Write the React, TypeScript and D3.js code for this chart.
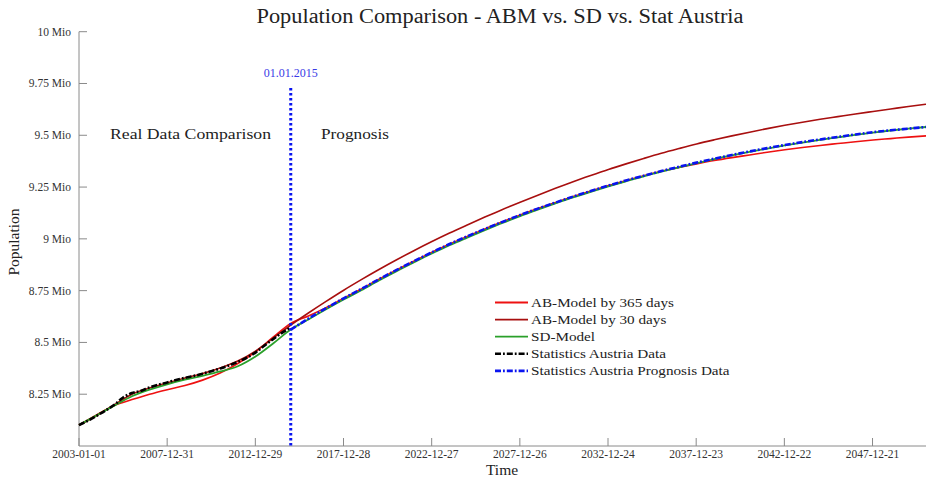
import React from "react";
import * as d3 from "d3";

// ---------- data (years as decimal years, values in millions) ----------
const statYears = [2003, 2003.5, 2004, 2004.5, 2005, 2005.5, 2006, 2006.5, 2007, 2007.5, 2008, 2008.5, 2009, 2009.5, 2010, 2010.5, 2011, 2011.5, 2012, 2012.5, 2013, 2013.5, 2014, 2014.5, 2015];
const statValues = [8.101, 8.122, 8.146, 8.171, 8.199, 8.234, 8.256, 8.266, 8.283, 8.296, 8.307, 8.319, 8.329, 8.338, 8.349, 8.361, 8.374, 8.389, 8.406, 8.426, 8.451, 8.484, 8.516, 8.546, 8.572];

const modelYears = [2003, 2004, 2005, 2006, 2007, 2008, 2009, 2010, 2011, 2012, 2013, 2014, 2015, 2016, 2017, 2018, 2019, 2020, 2021, 2022, 2023, 2024, 2025, 2026, 2027, 2028, 2029, 2030, 2031, 2032, 2033, 2034, 2035, 2036, 2037, 2038, 2039, 2040, 2041, 2042, 2043, 2044, 2045, 2046, 2047, 2048, 2049, 2050, 2051];

const ab365Values = [8.101, 8.150, 8.196, 8.224, 8.250, 8.272, 8.292, 8.318, 8.352, 8.398, 8.455, 8.525, 8.592, 8.628, 8.668, 8.713, 8.758, 8.805, 8.850, 8.893, 8.935, 8.975, 9.012, 9.048, 9.082, 9.115, 9.146, 9.175, 9.204, 9.231, 9.257, 9.282, 9.305, 9.326, 9.345, 9.362, 9.378, 9.392, 9.405, 9.418, 9.430, 9.441, 9.451, 9.460, 9.469, 9.477, 9.484, 9.491, 9.497];

const ab30Values = [8.101, 8.146, 8.199, 8.250, 8.280, 8.305, 8.328, 8.350, 8.377, 8.410, 8.458, 8.520, 8.584, 8.642, 8.698, 8.752, 8.803, 8.852, 8.899, 8.944, 8.987, 9.028, 9.067, 9.105, 9.142, 9.177, 9.211, 9.244, 9.276, 9.306, 9.335, 9.362, 9.388, 9.413, 9.436, 9.458, 9.478, 9.497, 9.515, 9.532, 9.548, 9.563, 9.577, 9.590, 9.603, 9.615, 9.627, 9.639, 9.650];

const sdValues = [8.101, 8.148, 8.195, 8.240, 8.272, 8.298, 8.320, 8.339, 8.360, 8.385, 8.432, 8.495, 8.562, 8.611, 8.660, 8.707, 8.752, 8.799, 8.844, 8.887, 8.929, 8.969, 9.006, 9.042, 9.077, 9.110, 9.141, 9.171, 9.200, 9.227, 9.253, 9.278, 9.302, 9.324, 9.345, 9.365, 9.385, 9.403, 9.420, 9.436, 9.451, 9.465, 9.478, 9.490, 9.502, 9.513, 9.523, 9.532, 9.540];

const progYears = [2015, 2016, 2017, 2018, 2019, 2020, 2021, 2022, 2023, 2024, 2025, 2026, 2027, 2028, 2029, 2030, 2031, 2032, 2033, 2034, 2035, 2036, 2037, 2038, 2039, 2040, 2041, 2042, 2043, 2044, 2045, 2046, 2047, 2048, 2049, 2050, 2051];
const progValues = [8.562, 8.615, 8.665, 8.713, 8.758, 8.805, 8.850, 8.893, 8.935, 8.975, 9.012, 9.048, 9.082, 9.115, 9.146, 9.175, 9.204, 9.231, 9.257, 9.282, 9.305, 9.327, 9.348, 9.368, 9.387, 9.405, 9.422, 9.438, 9.453, 9.467, 9.480, 9.492, 9.504, 9.515, 9.524, 9.532, 9.540];

const yTickValues = [8.25, 8.5, 8.75, 9, 9.25, 9.5, 9.75, 10];
const yTickLabels = ["8.25 Mio", "8.5 Mio", "8.75 Mio", "9 Mio", "9.25 Mio", "9.5 Mio", "9.75 Mio", "10 Mio"];
const xTickLabels = ["2003-01-01", "2007-12-31", "2012-12-29", "2017-12-28", "2022-12-27", "2027-12-26", "2032-12-24", "2037-12-23", "2042-12-22", "2047-12-21"];

const legendLabels = ["AB-Model by 365 days", "AB-Model by 30 days", "SD-Model", "Statistics Austria Data", "Statistics Austria Prognosis Data"];

const W = 927;
const H = 479;
const FONT = "'Liberation Serif', 'Times New Roman', serif";

const toDate = (y: number) => {
  const yr = Math.floor(y);
  const a = Date.UTC(yr, 0, 1);
  const b = Date.UTC(yr + 1, 0, 1);
  return new Date(a + (y - yr) * (b - a));
};
const parseDay = (s: string) => new Date(s + "T00:00:00Z");

export default function App() {
  const x = d3.scaleUtc().domain([parseDay("2003-01-01"), parseDay("2051-01-01")]).range([79, 926]);
  const y = d3.scaleLinear().domain([8, 10]).range([446, 31.7]);

  const line = (xs: number[], vs: number[]) =>
    d3.line<number>()
      .x((_, i) => x(toDate(xs[i])))
      .y((v) => y(v))
      .curve(d3.curveMonotoneX)(vs) || "";

  const series = [
    { key: "ab365", d: line(modelYears, ab365Values), color: "#ee1111", width: 1.6, dash: undefined as string | undefined },
    { key: "ab30", d: line(modelYears, ab30Values), color: "#a80f0f", width: 1.6, dash: undefined },
    { key: "sd", d: line(modelYears, sdValues), color: "#2aa02a", width: 1.8, dash: undefined },
    { key: "stat", d: line(statYears, statValues), color: "#000000", width: 2.6, dash: "6 2 1.8 2" },
    { key: "prog", d: line(progYears, progValues), color: "#0a14f0", width: 2.6, dash: "6 2 1.8 2" },
  ];

  const xTicks = xTickLabels.map(parseDay);
  const vDate = parseDay("2015-01-01");
  const vx = x(vDate);

  const legendX = 495;
  const legendY0 = 302.5;
  const legendDy = 17.1;

  return (
    <svg width={W} height={H} style={{ position: "absolute", left: 0, top: 0, background: "#fff" }} fontFamily={FONT}>
      <rect x={0} y={0} width={W} height={H} fill="#fff" />
      {/* title */}
      <text x={500} y={23} textAnchor="middle" fontSize={20} fill="#222" textLength={487} lengthAdjust="spacingAndGlyphs">
        Population Comparison - ABM vs. SD vs. Stat Austria
      </text>

      {/* axes */}
      <line x1={79} y1={y(10)} x2={79} y2={446} stroke="#8a8a8a" strokeWidth={1} />
      <line x1={79} y1={446} x2={926} y2={446} stroke="#8a8a8a" strokeWidth={1} />
      {yTickValues.map((v, i) => (
        <g key={"yt" + i}>
          <line x1={79} x2={87} y1={y(v)} y2={y(v)} stroke="#8a8a8a" strokeWidth={1} />
          <text x={71} y={y(v) + 4} textAnchor="end" fontSize={11.5} fill="#333">
            {yTickLabels[i]}
          </text>
        </g>
      ))}
      {xTicks.map((d, i) => (
        <g key={"xt" + i}>
          <line x1={x(d)} x2={x(d)} y1={446} y2={438} stroke="#8a8a8a" strokeWidth={1} />
          <text x={x(d)} y={458} textAnchor="middle" fontSize={11.5} fill="#333">
            {xTickLabels[i]}
          </text>
        </g>
      ))}

      {/* axis labels */}
      <text x={502} y={475} textAnchor="middle" fontSize={15.5} fill="#222">Time</text>
      <text transform="translate(19,242) rotate(-90)" textAnchor="middle" fontSize={15.5} fill="#222">Population</text>

      {/* annotations */}
      <text x={110} y={139} fontSize={15} fill="#222" textLength={161} lengthAdjust="spacingAndGlyphs">Real Data Comparison</text>
      <text x={321} y={139} fontSize={15} fill="#222" textLength={68} lengthAdjust="spacingAndGlyphs">Prognosis</text>
      <text x={vx} y={77} textAnchor="middle" fontSize={12} fill="#3a3ae6">01.01.2015</text>

      {/* series */}
      {series.map((s) => (
        <path key={s.key} d={s.d} fill="none" stroke={s.color} strokeWidth={s.width} strokeDasharray={s.dash} strokeLinejoin="round" />
      ))}

      {/* vertical marker */}
      <line x1={vx} x2={vx} y1={88} y2={446} stroke="#0a14f0" strokeWidth={3} strokeDasharray="2.5 2.5" />

      {/* legend */}
      {series.map((s, i) => (
        <g key={"lg" + i}>
          <line x1={legendX} x2={legendX + 33} y1={legendY0 + i * legendDy} y2={legendY0 + i * legendDy} stroke={s.color} strokeWidth={s.dash ? 2.6 : 1.8} strokeDasharray={s.dash} />
          <text transform={`translate(${legendX + 36},${legendY0 + i * legendDy + 4.5}) scale(1.15,1)`} fontSize={13.2} fill="#222">
            {legendLabels[i]}
          </text>
        </g>
      ))}
    </svg>
  );
}
